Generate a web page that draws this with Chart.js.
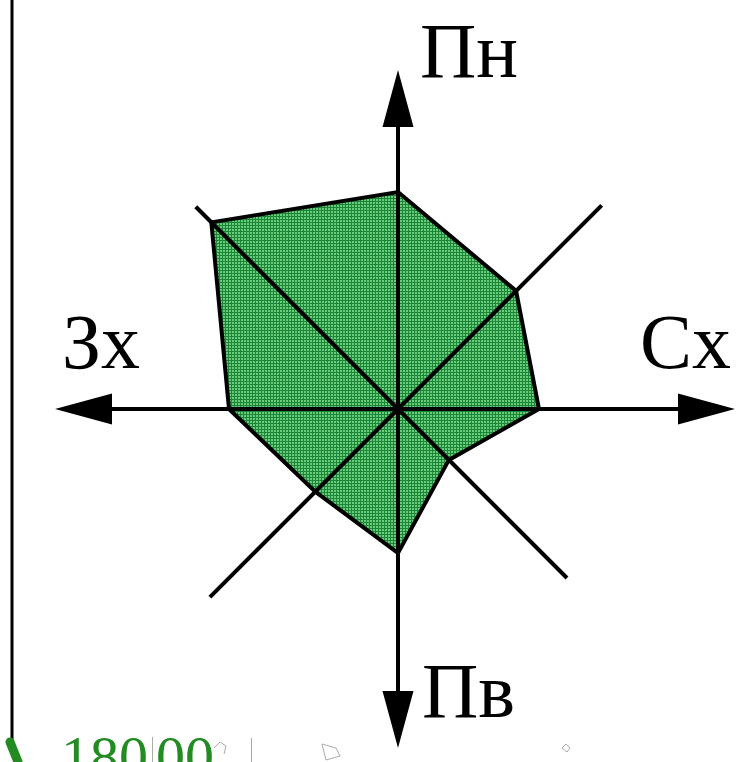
<!DOCTYPE html>
<html>
<head>
<meta charset="utf-8">
<script src="https://cdn.jsdelivr.net/npm/chart.js@4"></script>
<style>
  html, body { margin: 0; padding: 0; background: #fff; }
  #wrap { width: 736px; height: 762px; position: relative; overflow: hidden; }
</style>
</head>
<body>
<div id="wrap"><canvas id="rose" width="736" height="762"></canvas></div>
<script>
// напрямки (за годинниковою стрілкою від півночі)
const directions = ['Пн', 'Пн-Сх', 'Сх', 'Пв-Сх', 'Пв', 'Пв-Зх', 'Зх', 'Пн-Зх'];
// значення рози (у тих самих одиницях, що й шкала)
const roseValues = [217, 167, 141, 72, 144, 117, 169, 264];
// довжина осей для кожного напрямку
const axisLength = [339, 288, 337, 239, 339, 266, 343, 286];
// підписи на кінцях головних осей
const axisLabels = ['Пн', '', 'Сх', '', 'Пв', '', 'Зх', ''];
const scaleMax = 338;

// зміщення підписів від вістря стрілки
const labelOffset = [
    { dx: 22, dy: 7, align: 'left' },
    null,
    { dx: -4, dy: -41, align: 'right' },
    null,
    { dx: 24, dy: -31, align: 'left' },
    null,
    { dx: 7, dy: -41, align: 'left' },
    null
];

// зелена штриховка як у оригіналі
function makeHatch() {
    const c = document.createElement('canvas');
    c.width = 3; c.height = 3;
    const g = c.getContext('2d');
    g.fillStyle = '#6acb7b';
    g.fillRect(0, 0, 3, 3);
    g.fillStyle = '#1b8638';
    g.fillRect(0, 0, 3, 1);
    g.fillRect(0, 0, 1, 3);
    return g.createPattern(c, 'repeat');
}

const roseAxes = {
    id: 'roseAxes',
    afterDatasetsDraw(chart) {
        const ctx = chart.ctx;
        const r = chart.scales.r;
        const cx = r.xCenter, cy = r.yCenter;
        ctx.save();
        ctx.strokeStyle = '#000';
        ctx.fillStyle = '#000';
        ctx.lineWidth = 4;
        ctx.lineCap = 'butt';
        axisLength.forEach((len, i) => {
            const tip = r.getPointPositionForValue(i, len);
            const ang = Math.atan2(tip.y - cy, tip.x - cx);
            const hasArrow = i % 2 === 0;
            const headLen = 57, headHalf = 15.5;
            const endX = hasArrow ? tip.x - Math.cos(ang) * headLen : tip.x;
            const endY = hasArrow ? tip.y - Math.sin(ang) * headLen : tip.y;
            ctx.beginPath();
            ctx.moveTo(cx, cy);
            ctx.lineTo(endX, endY);
            ctx.stroke();
            if (hasArrow) {
                const px = -Math.sin(ang), py = Math.cos(ang);
                ctx.beginPath();
                ctx.moveTo(tip.x, tip.y);
                ctx.lineTo(endX + px * headHalf, endY + py * headHalf);
                ctx.lineTo(endX - px * headHalf, endY - py * headHalf);
                ctx.closePath();
                ctx.fill();
            }
            const lo = labelOffset[i];
            if (lo && axisLabels[i]) {
                ctx.font = '78px "Liberation Serif", "DejaVu Serif", serif';
                ctx.textAlign = lo.align;
                ctx.textBaseline = 'alphabetic';
                ctx.fillText(axisLabels[i], tip.x + lo.dx, tip.y + lo.dy);
            }
        });
        ctx.restore();
    },
    afterDraw(chart) {
        // рамка зліва та обрізаний підпис внизу
        const ctx = chart.ctx;
        ctx.save();
        ctx.strokeStyle = '#000';
        ctx.lineWidth = 3;
        ctx.beginPath();
        ctx.moveTo(12, 0);
        ctx.lineTo(12, 740);
        ctx.stroke();
        ctx.strokeStyle = '#228b22';
        ctx.lineWidth = 9;
        ctx.lineCap = 'round';
        ctx.beginPath();
        ctx.moveTo(10, 742);
        ctx.lineTo(18, 762);
        ctx.stroke();
        ctx.fillStyle = '#228b22';
        ctx.font = '58px "Liberation Serif", serif';
        ctx.textAlign = 'left';
        ctx.fillText('180', 61, 776);
        ctx.fillText('00', 156, 776);
        ctx.strokeStyle = '#aaa';
        ctx.lineWidth = 1;
        ctx.lineCap = 'butt';
        ctx.beginPath();
        ctx.moveTo(152.5, 737); ctx.lineTo(152.5, 762);
        ctx.moveTo(251.5, 738); ctx.lineTo(251.5, 762);
        // дрібні сірі залишки фігур
        ctx.moveTo(214, 748); ctx.lineTo(220, 742); ctx.lineTo(226, 746); ctx.lineTo(224, 754);
        ctx.moveTo(322, 744); ctx.lineTo(336, 748); ctx.lineTo(340, 756); ctx.lineTo(326, 760); ctx.closePath();
        ctx.moveTo(562, 748); ctx.lineTo(566, 744); ctx.lineTo(570, 748); ctx.lineTo(567, 752); ctx.closePath();
        ctx.stroke();
        ctx.restore();
    }
};

new Chart(document.getElementById('rose'), {
    type: 'radar',
    data: {
        labels: directions,
        datasets: [{
            data: roseValues,
            backgroundColor: makeHatch(),
            borderColor: '#000',
            borderWidth: 4,
            borderJoinStyle: 'miter',
            fill: true,
            pointRadius: 0,
            tension: 0
        }]
    },
    options: {
        responsive: false,
        animation: false,
        devicePixelRatio: 1,
        layout: { padding: { left: 60, right: 0, top: 56, bottom: 0 } },
        plugins: { legend: { display: false }, tooltip: { enabled: false } },
        scales: {
            r: {
                min: 0,
                max: scaleMax,
                grid: { display: false },
                angleLines: { display: false },
                ticks: { display: false },
                pointLabels: { display: false }
            }
        }
    },
    plugins: [roseAxes]
});
</script>
</body>
</html>
